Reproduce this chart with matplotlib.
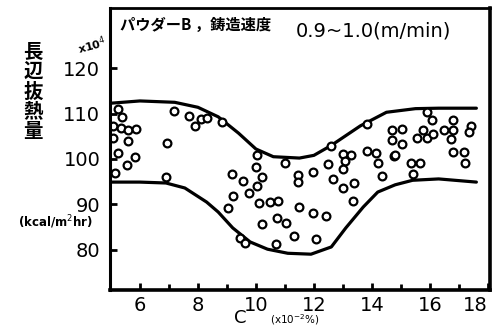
import numpy as np
import matplotlib.pyplot as plt

plt.rcParams['font.family'] = ['DejaVu Sans', 'Noto Sans CJK JP']

# measured circles: carbon content (x10^-2 %) vs heat removal (x10^4 kcal/m2hr)
c_pts = [5.24, 5.38, 5.07, 5.34, 5.59, 5.86, 5.07, 5.59, 5.24, 5.83, 5.55, 5.14,
         7.17, 6.93, 6.90, 7.69, 7.90, 8.10, 8.31, 8.83,
         10.03, 11.00, 9.17, 10.00, 10.21, 9.55, 10.03, 9.76, 9.21, 9.03,
         10.10, 10.48, 10.76, 10.72, 11.03, 10.21, 11.31, 9.45, 9.62, 10.69,
         11.45, 11.45, 11.48,
         13.83, 12.59, 14.69, 14.69, 14.76, 13.00, 13.28, 13.83, 14.14, 13.07,
         12.48, 14.21, 13.00, 11.97, 12.66, 13.38, 13.00, 13.34, 11.97, 12.41, 12.07,
         15.90, 16.07, 15.03, 15.03, 14.79, 15.55, 15.76, 15.90, 16.10, 16.48,
         16.79, 16.79, 16.72, 16.79, 17.17, 17.41, 17.34, 17.21, 15.34, 15.66,
         15.41, 14.34]
q_pts = [111.0, 109.3, 107.3, 106.8, 106.4, 106.6, 104.6, 104.0, 101.3, 100.4, 98.6, 96.9,
         110.6, 103.5, 96.0, 109.5, 107.3, 108.8, 109.0, 108.1,
         100.9, 99.1, 96.7, 98.2, 96.0, 95.1, 94.0, 92.5, 91.8, 89.2,
         90.3, 90.5, 90.7, 87.0, 85.9, 85.6, 83.0, 82.5, 81.4, 81.2,
         96.4, 94.9, 89.4,
         107.7, 102.9, 106.4, 104.2, 100.6, 101.1, 100.9, 101.7, 101.3, 99.5,
         98.9, 99.1, 97.8, 97.1, 95.6, 94.7, 93.6, 90.7, 88.1, 87.4, 82.3,
         110.4, 108.6, 106.6, 103.3, 100.9, 104.6, 106.4, 104.6, 105.5, 106.4,
         108.6, 106.4, 104.4, 101.5, 101.5, 107.3, 105.9, 99.1, 99.1, 99.1,
         96.7, 96.2]

# upper / lower envelope
up_x = [5.0, 6.0, 7.2, 8.0, 8.7, 9.4, 10.0, 10.6, 11.5, 12.0, 12.6, 13.6, 14.5, 15.5, 16.3, 17.6]
up_y = [112.3, 112.8, 112.5, 111.4, 109.3, 105.7, 102.2, 100.5, 100.2, 100.8, 103.0, 107.3,
        110.3, 111.1, 111.2, 111.2]
lo_x = [5.0, 6.0, 6.9, 7.55, 8.3, 8.7, 9.2, 9.8, 10.4, 11.1, 11.9, 12.6, 13.1, 13.7, 14.2,
        14.8, 15.4, 16.3, 17.6]
lo_y = [94.9, 94.9, 94.7, 93.6, 90.5, 88.3, 84.8, 81.7, 80.1, 79.2, 79.0, 80.6, 84.8, 89.4,
        92.7, 94.3, 95.3, 95.6, 94.9]

xticks = [6, 8, 10, 12, 14, 16, 18]
yticks = [80, 90, 100, 110, 120]

W, H = 493, 328
fig = plt.figure(figsize=(W / 100, H / 100), dpi=100)
ax = fig.add_axes([110 / W, 1 - 290 / H, 380 / W, 282 / H])

ax.plot(up_x, up_y, color='black', lw=2.3, solid_joinstyle='round', solid_capstyle='round')
ax.plot(lo_x, lo_y, color='black', lw=2.3, solid_joinstyle='round', solid_capstyle='round')
ax.plot(c_pts, q_pts, 'o', ls='none', ms=5.6, mfc='white', mec='black', mew=1.6)

ax.set_xlim(4.97, 18.07)
ax.set_ylim(71.1, 133.3)
ax.set_xticks(xticks)
ax.set_xticks([7, 9, 11, 13, 15, 17], minor=True)
ax.set_yticks(yticks)
ax.tick_params(axis='both', which='major', direction='in', length=5, width=2,
               labelsize=14)
ax.tick_params(axis='x', which='minor', direction='in', length=4, width=2)
ax.tick_params(axis='x', pad=4)
ax.tick_params(axis='y', pad=7)
# last label sits at the right edge, keep it inside the picture
ax.get_xticklabels()[-1].set_horizontalalignment('right')
for sp, w in zip(['left', 'bottom', 'top', 'right'], [2.2, 2.6, 2.0, 2.6]):
    ax.spines[sp].set_linewidth(w)

cjk = ['Noto Sans CJK JP', 'DejaVu Sans']
fig.text(120 / W, 1 - 25 / H, 'パウダーB ，鋳造速度', fontsize=11, family=cjk,
         fontweight='bold', va='center', ha='left')
fig.text(296 / W, 1 - 31 / H, '0.9~1.0(m/min)', fontsize=14, va='center', ha='left')

fig.text(33 / W, 1 - 92 / H, '長\n辺\n抜\n熱\n量', fontsize=14, family=cjk,
         fontweight='bold', ha='center', va='center', linespacing=1.05)
fig.text(92 / W, 1 - 45 / H, 'x10$^4$', fontsize=8, fontweight='bold',
         ha='center', va='center', rotation=15)
fig.text(55 / W, 1 - 222 / H, '(kcal/m$^2$hr)', fontsize=8.5, fontweight='bold',
         ha='center', va='center')

fig.text(240 / W, 1 - 318 / H, 'C', fontsize=13, ha='center', va='center')
fig.text(295 / W, 1 - 320 / H, '(x10$^{-2}$%)', fontsize=7.5, ha='center', va='center')

fig.savefig('out.png', dpi=100, facecolor='white')
